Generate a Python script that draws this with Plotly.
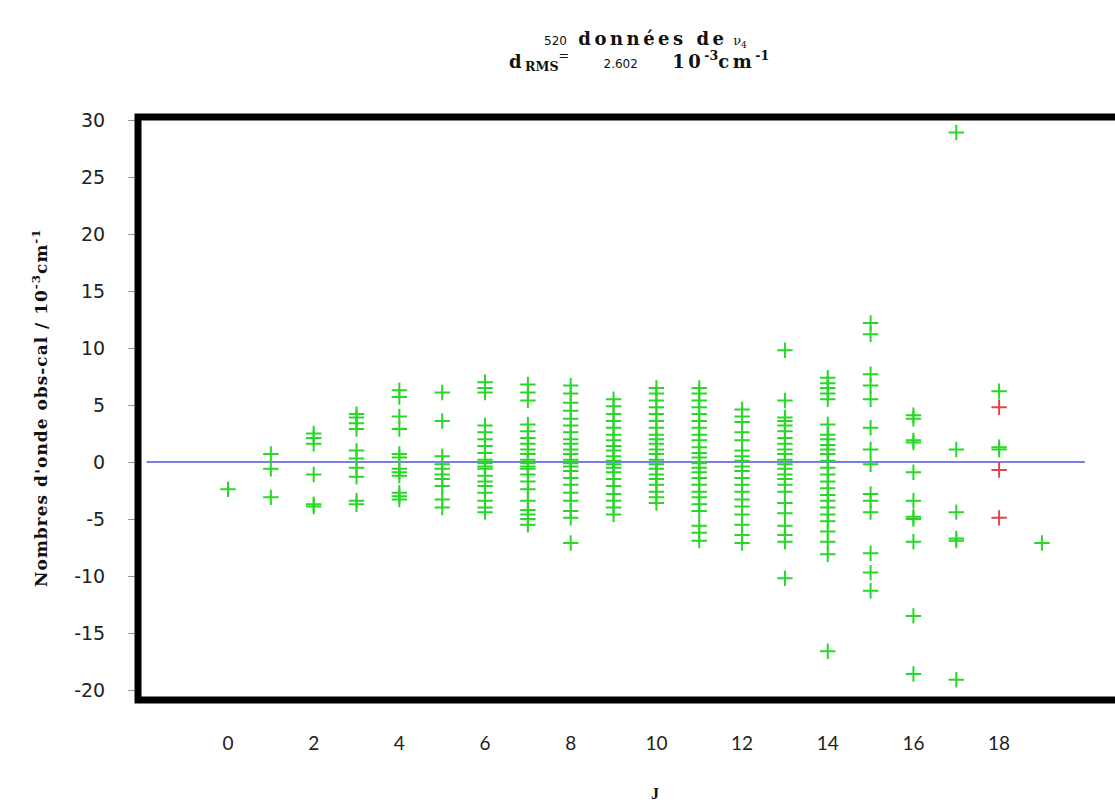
import plotly.graph_objects as go

# Residuals obs-cal (10^-3 cm^-1) of the v4 band, grouped by J
res_J0 = [-2.4]
res_J1 = [0.7, -0.6, -3.1]
res_J2 = [2.5, 2.1, 1.6, -1.1, -3.7, -3.9]
res_J3 = [4.2, 3.9, 3.4, 2.9, 1.0, 0.3, -0.5, -1.3, -3.4, -3.7]
res_J4 = [6.3, 5.7, 4.0, 2.9, 0.7, 0.4, -0.6, -0.9, -1.2, -2.7, -3.0, -3.3]
res_J5 = [6.1, 3.6, 0.5, -0.2, -0.6, -1.1, -1.5, -2.1, -3.3, -4.0]
res_J6 = [7.0, 6.5, 6.1, 3.2, 2.6, 2.0, 1.4, 0.8, 0.2, -0.1, -0.4, -0.6, -1.2,
          -1.7, -2.1, -2.7, -3.4, -4.0, -4.4]
res_J7 = [6.8, 6.1, 5.4, 3.3, 2.7, 2.1, 1.6, 1.1, 0.7, 0.2, -0.1, -0.4, -0.6,
          -1.1, -1.7, -2.4, -3.4, -4.2, -4.6, -5.0, -5.5]
res_J8 = [6.7, 6.0, 5.2, 4.5, 3.8, 3.2, 2.6, 2.0, 1.6, 1.1, 0.7, 0.2, -0.1,
          -0.4, -0.8, -1.4, -2.0, -2.7, -3.4, -4.3, -4.9, -7.1]
res_J9 = [5.5, 4.9, 4.2, 3.6, 3.0, 2.4, 1.9, 1.4, 1.0, 0.5, 0.1, -0.2, -0.5,
          -0.9, -1.5, -2.1, -2.8, -3.4, -4.0, -4.6]
res_J10 = [6.5, 6.0, 5.4, 4.8, 4.2, 3.6, 3.0, 2.4, 2.0, 1.6, 1.1, 0.7, 0.2,
           -0.2, -0.6, -1.1, -1.5, -2.0, -2.6, -3.1, -3.6]
res_J11 = [6.5, 6.0, 5.4, 4.8, 4.2, 3.6, 3.0, 2.4, 1.9, 1.3, 0.8, 0.4, -0.1,
           -0.5, -0.9, -1.4, -2.0, -2.6, -3.1, -3.7, -4.3, -5.6, -6.2, -6.9]
res_J12 = [4.6, 4.0, 3.5, 2.6, 1.9, 1.0, 0.5, 0.1, -0.4, -0.8, -1.4, -2.0,
           -2.6, -3.3, -3.9, -4.6, -5.5, -6.4, -7.1]
res_J13 = [9.8, 5.4, 3.9, 3.6, 3.2, 2.7, 2.1, 1.6, 1.1, 0.7, 0.2, -0.2, -0.6,
           -1.1, -1.5, -2.0, -2.6, -3.6, -4.5, -5.6, -6.4, -7.0, -10.2]
res_J14 = [7.4, 6.9, 6.5, 6.0, 5.5, 3.3, 2.4, 2.0, 1.5, 1.1, 0.7, 0.1, -0.5,
           -1.1, -1.7, -2.3, -2.9, -3.4, -4.0, -4.6, -5.2, -6.1, -7.0, -8.1,
           -16.6]
res_J15 = [12.2, 11.2, 7.7, 6.7, 5.5, 3.0, 1.1, -0.2, -2.8, -3.4, -4.4, -8.0,
           -9.7, -11.3]
res_J16 = [4.1, 3.8, 1.9, 1.7, -0.9, -3.4, -4.8, -5.0, -7.0, -13.5, -18.6]
res_J17 = [28.9, 1.1, -4.4, -6.7, -6.9, -19.1]
res_J18 = [6.2, 1.3, 1.1]
res_J19 = [-7.1]

residuals_by_J = [res_J0, res_J1, res_J2, res_J3, res_J4, res_J5, res_J6,
                  res_J7, res_J8, res_J9, res_J10, res_J11, res_J12, res_J13,
                  res_J14, res_J15, res_J16, res_J17, res_J18, res_J19]
J_values = list(range(len(residuals_by_J)))

# Lines flagged separately (drawn in red)
red_J = [18, 18, 18]
red_res = [4.8, -0.7, -4.9]

# Reference line obs-cal = 0
zero_x = [-1.9, 20.0]
zero_y = [0, 0]

x_tick_vals = [0, 2, 4, 6, 8, 10, 12, 14, 16, 18]
y_tick_vals = [30, 25, 20, 15, 10, 5, 0, -5, -10, -15, -20]
y_tick_text = ["30", "25", "20", "15", "10", "5", "0", "-5", "-10", "-15", "-20"]

# ---------------------------------------------------------------------------
W, H = 1115, 802
L, R, T, B = 138, 1115, 117, 700


def px_x(p):
    return (p - L) / (R - L)


def px_y(p):
    return (B - p) / (B - T)


green_x, green_y = [], []
for j, vals in zip(J_values, residuals_by_J):
    green_x += [j] * len(vals)
    green_y += vals

GREEN = "rgb(40,215,40)"
RED = "rgb(222,70,70)"
cross = dict(symbol="cross-thin", size=11)

fig = go.Figure()
fig.add_trace(go.Scatter(
    x=zero_x, y=zero_y, mode="lines",
    line=dict(color="rgb(80,80,225)", width=1.6), hoverinfo="skip"))
fig.add_trace(go.Scatter(
    x=green_x, y=green_y, mode="markers",
    marker=dict(**cross, color=GREEN, line=dict(color=GREEN, width=2))))
fig.add_trace(go.Scatter(
    x=red_J, y=red_res, mode="markers",
    marker=dict(**cross, color=RED, line=dict(color=RED, width=2))))

fig.update_layout(
    width=W, height=H,
    margin=dict(l=L, r=W - R, t=T, b=H - B),
    paper_bgcolor="white", plot_bgcolor="white",
    showlegend=False,
    xaxis=dict(
        range=[(L - 228) / 42.84, (R - 228) / 42.84],
        tickvals=x_tick_vals, showgrid=False, zeroline=False, showline=False,
        ticks="", ticklabelstandoff=30,
        tickfont=dict(family="Lato", size=19, color="#222"),
    ),
    yaxis=dict(
        range=[(462 - B) / 11.4, (462 - T) / 11.4],
        tickvals=y_tick_vals, ticktext=y_tick_text,
        showgrid=False, zeroline=False, showline=False,
        ticks="outside", ticklen=9, tickwidth=1, tickcolor="#999",
        ticklabelstandoff=19,
        tickfont=dict(family="DejaVu Sans", size=19, color="#222"),
    ),
    shapes=[dict(type="rect", xref="paper", yref="paper",
                 x0=0, x1=1.05, y0=0, y1=1,
                 line=dict(color="black", width=7), layer="above")],
)

serif = "DejaVu Serif"
spaced = "letter-spacing:3.5px"
annotations = [
    dict(x=px_x(645), y=px_y(39),
         text='<span style="font-family:DejaVu Sans;font-size:12px">520</span>  '
              f'<span style="{spaced}"><b>données de</b></span> '
              '<span style="font-size:13px">ν<sub>4</sub></span>',
         font=dict(family=serif, size=18, color="#111")),
    dict(x=px_x(639), y=px_y(61),
         text=f'<span style="{spaced}"><b>d</b></span><sub><b>RMS</b></sub>'
              '<sup>=</sup>      '
              '<span style="font-family:DejaVu Sans;font-size:12px">2.602</span>      '
              f'<span style="{spaced}"><b>10</b></span><sup><b>-3</b></sup>'
              f'<span style="{spaced}"><b>cm</b></span><sup><b>-1</b></sup>',
         font=dict(family=serif, size=18, color="#111")),
    dict(x=px_x(40), y=px_y(408), textangle=-90,
         text='<span style="letter-spacing:1px">'
              "<b>Nombres d'onde obs-cal / 10<sup>-3</sup>cm<sup>-1</sup></b>"
              '</span>',
         font=dict(family=serif, size=17, color="#111")),
    dict(x=px_x(655), y=px_y(793), text="<b>J</b>",
         font=dict(family="Liberation Serif", size=16, color="#111")),
]
for a in annotations:
    a.update(xref="paper", yref="paper", showarrow=False,
             xanchor="center", yanchor="middle")
fig.update_layout(annotations=annotations)

fig.write_html("out.html")
